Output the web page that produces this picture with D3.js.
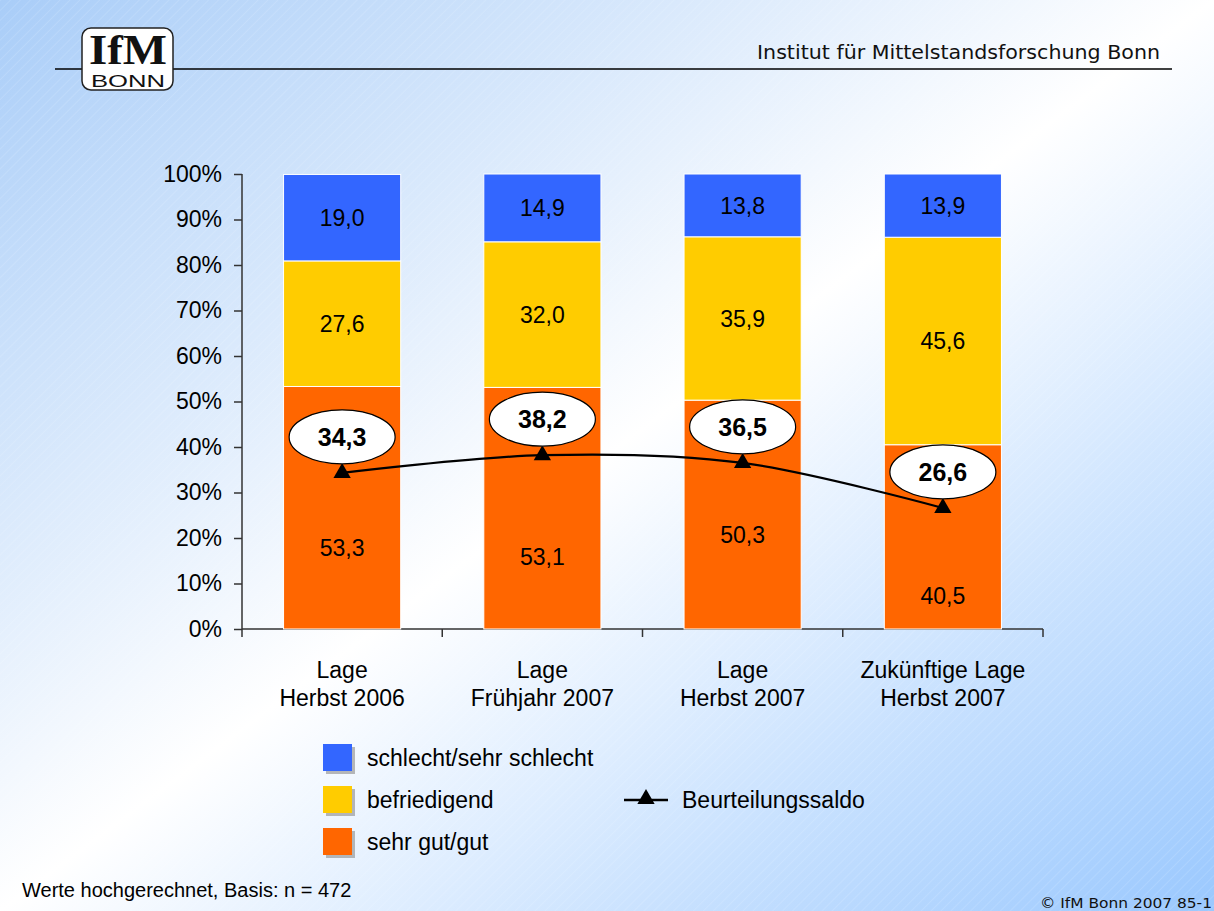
<!DOCTYPE html>
<html><head><meta charset="utf-8">
<script src="https://cdn.jsdelivr.net/npm/d3@7"></script>
<style>html,body{margin:0;padding:0;overflow:hidden;background:#fff}svg{display:block}</style>
</head><body>
<svg id="c" width="1214" height="911"></svg>
<script>
const categories = [["Lage","Herbst 2006"],["Lage","Frühjahr 2007"],["Lage","Herbst 2007"],["Zukünftige Lage","Herbst 2007"]];
const sehrGutGut = [53.3, 53.1, 50.3, 40.5];
const befriedigend = [27.6, 32.0, 35.9, 45.6];
const schlecht = [19.0, 14.9, 13.8, 13.9];
const saldo = [34.3, 38.2, 36.5, 26.6];
const orangeLabelAt = [17.8, 15.8, 20.7, 7.3];
const yTicks = [0,10,20,30,40,50,60,70,80,90,100];

const fmt = v => v.toFixed(1).replace(".", ",");
const svg = d3.select("#c");
const W = 1214, H = 911;
const defs = svg.append("defs");
const g = defs.append("linearGradient").attr("id","bg").attr("x1",0).attr("y1",0).attr("x2",1).attr("y2",1);
g.append("stop").attr("offset","0").attr("stop-color","#a9cdf8");
g.append("stop").attr("offset","0.5").attr("stop-color","#ffffff");
g.append("stop").attr("offset","1").attr("stop-color","#9ac8fe");
const pat = defs.append("pattern").attr("id","stripes").attr("width",7).attr("height",7)
  .attr("patternUnits","userSpaceOnUse").attr("patternTransform","rotate(45)");
pat.append("line").attr("x1",0).attr("y1",0).attr("x2",0).attr("y2",7).attr("stroke","#fff").attr("stroke-width",1).attr("stroke-opacity",0.25);
svg.append("rect").attr("width",W).attr("height",H).attr("fill","url(#bg)");
svg.append("rect").attr("width",W).attr("height",H).attr("fill","url(#stripes)");

// header
svg.append("line").attr("x1",55).attr("x2",1172).attr("y1",69).attr("y2",69).attr("stroke","#000").attr("stroke-width",1.5);
svg.append("rect").attr("x",82).attr("y",28).attr("width",91).attr("height",62).attr("rx",9)
  .attr("fill","#fff").attr("stroke","#222").attr("stroke-width",1.5);
svg.append("text").attr("x",128).attr("y",64).attr("text-anchor","middle")
  .attr("font-family","Liberation Serif, serif").attr("font-weight","bold").attr("font-size",42)
  .attr("fill","#111").attr("textLength",78).attr("lengthAdjust","spacingAndGlyphs").text("IfM");
svg.append("text").attr("x",128).attr("y",87).attr("text-anchor","middle")
  .attr("font-family","Liberation Sans, Arial, sans-serif").attr("font-size",17)
  .attr("fill","#111").attr("textLength",74).attr("lengthAdjust","spacingAndGlyphs").text("BONN");
svg.append("text").attr("x",1160).attr("y",59).attr("text-anchor","end")
  .attr("font-family","DejaVu Sans, sans-serif").attr("font-size",19).attr("fill","#111")
  .attr("textLength",403).attr("lengthAdjust","spacingAndGlyphs")
  .text("Institut für Mittelstandsforschung Bonn");

// scales
const x = d3.scaleBand().domain(d3.range(categories.length)).range([242,1043]).paddingInner(0.415).paddingOuter(0.2075);
const y = d3.scaleLinear().domain([0,100]).range([629,174]);
const font = "Liberation Sans, Arial, sans-serif";

// axes
const yAxis = svg.append("g").attr("transform","translate(242,0)")
  .call(d3.axisLeft(y).tickValues(yTicks).tickFormat(d => d + "%").tickSize(8).tickPadding(12));
yAxis.selectAll("text").attr("font-family",font).attr("font-size",23).attr("fill","#000");
yAxis.selectAll("line,path").attr("stroke","#333").attr("stroke-width",1.5);
yAxis.select("path").attr("d","M0,174V629");

const xAxisG = svg.append("g").attr("transform","translate(0,629)");
xAxisG.append("line").attr("x1",242).attr("x2",1043).attr("stroke","#333").attr("stroke-width",1.5);
const bounds = d3.range(categories.length + 1).map(i => 242 + i * (1043 - 242) / categories.length);
xAxisG.selectAll("line.tk").data(bounds).join("line").attr("class","tk")
  .attr("x1",d=>d).attr("x2",d=>d).attr("y1",0).attr("y2",8).attr("stroke","#333").attr("stroke-width",1.5);

// stacked bars
const stackData = categories.map((c,i)=>({i, a: sehrGutGut[i], b: befriedigend[i], c: schlecht[i]}));
const series = d3.stack().keys(["a","b","c"])(stackData);
const colors = {a:"#ff6600", b:"#ffcc00", c:"#3366ff"};
series.forEach(s => {
  svg.append("g").selectAll("rect").data(s).join("rect")
    .attr("x", d => x(d.data.i)).attr("width", x.bandwidth())
    .attr("y", d => y(Math.min(d[1],100))).attr("height", d => y(d[0]) - y(Math.min(d[1],100)))
    .attr("fill", colors[s.key]).attr("stroke","#fff").attr("stroke-width",1);
});
// segment labels
series.forEach(s => {
  svg.append("g").selectAll("text").data(s).join("text")
    .attr("x", d => x(d.data.i) + x.bandwidth()/2)
    .attr("y", (d,i) => s.key === "a" ? y(orangeLabelAt[i]) : y((d[0] + Math.min(d[1],100)) / 2))
    .attr("dy","0.36em").attr("text-anchor","middle")
    .attr("font-family",font).attr("font-size",23).attr("fill","#000")
    .text(d => fmt(d.data[s.key]));
});

// category labels
categories.forEach((c,i) => {
  const cx = x(i) + x.bandwidth()/2;
  const t = svg.append("text").attr("x", cx).attr("text-anchor","middle")
    .attr("font-family",font).attr("font-size",23).attr("fill","#000");
  t.append("tspan").attr("x", cx).attr("y",678).text(c[0]);
  t.append("tspan").attr("x", cx).attr("y",706).text(c[1]);
});

// saldo line
const pts = saldo.map((v,i) => [x(i) + x.bandwidth()/2, y(v)]);
svg.append("path").attr("d", d3.line().curve(d3.curveCardinal.tension(0))(pts))
  .attr("fill","none").attr("stroke","#000").attr("stroke-width",2.2);
svg.append("g").selectAll("path").data(pts).join("path")
  .attr("transform", d => `translate(${d[0]},${d[1]})`)
  .attr("d", d3.symbol(d3.symbolTriangle, 130)).attr("fill","#000");
// callouts
const co = svg.append("g").selectAll("g").data(pts).join("g")
  .attr("transform", d => `translate(${d[0]},${d[1] - 36})`);
co.append("ellipse").attr("rx",53).attr("ry",27).attr("fill","#fff").attr("stroke","#000").attr("stroke-width",1.2);
co.append("text").attr("text-anchor","middle").attr("dy","0.36em")
  .attr("font-family",font).attr("font-weight","bold").attr("font-size",25).attr("fill","#000")
  .text((d,i) => fmt(saldo[i]));

// legend
const legItems = [["schlecht/sehr schlecht","#3366ff"],["befriedigend","#ffcc00"],["sehr gut/gut","#ff6600"]];
const leg = svg.append("g").selectAll("g").data(legItems).join("g")
  .attr("transform",(d,i)=>`translate(323,${744 + i*42})`);
leg.append("rect").attr("x",3).attr("y",3).attr("width",29).attr("height",27).attr("fill","#9a9a9a").attr("opacity",0.7);
leg.append("rect").attr("width",29).attr("height",27).attr("fill",d=>d[1]);
leg.append("text").attr("x",44).attr("y",14).attr("dy","0.36em")
  .attr("font-family",font).attr("font-size",23).attr("fill","#000").text(d=>d[0]);
const l2 = svg.append("g").attr("transform","translate(624,800)");
l2.append("line").attr("x1",0).attr("x2",44).attr("stroke","#000").attr("stroke-width",2.5);
l2.append("path").attr("transform","translate(22,-1)").attr("d", d3.symbol(d3.symbolTriangle,130)).attr("fill","#000");
l2.append("text").attr("x",58).attr("dy","0.36em").attr("font-family",font).attr("font-size",23).attr("fill","#000").text("Beurteilungssaldo");

// footer
svg.append("text").attr("x",22).attr("y",897).attr("font-family",font).attr("font-size",20).attr("fill","#000")
  .text("Werte hochgerechnet, Basis: n = 472");
svg.append("text").attr("x",1212).attr("y",908).attr("text-anchor","end").attr("font-family","DejaVu Sans, sans-serif")
  .attr("font-size",14).attr("fill","#111").attr("textLength",172).attr("lengthAdjust","spacingAndGlyphs")
  .text("© IfM Bonn 2007  85-1");
</script>
</body></html>
